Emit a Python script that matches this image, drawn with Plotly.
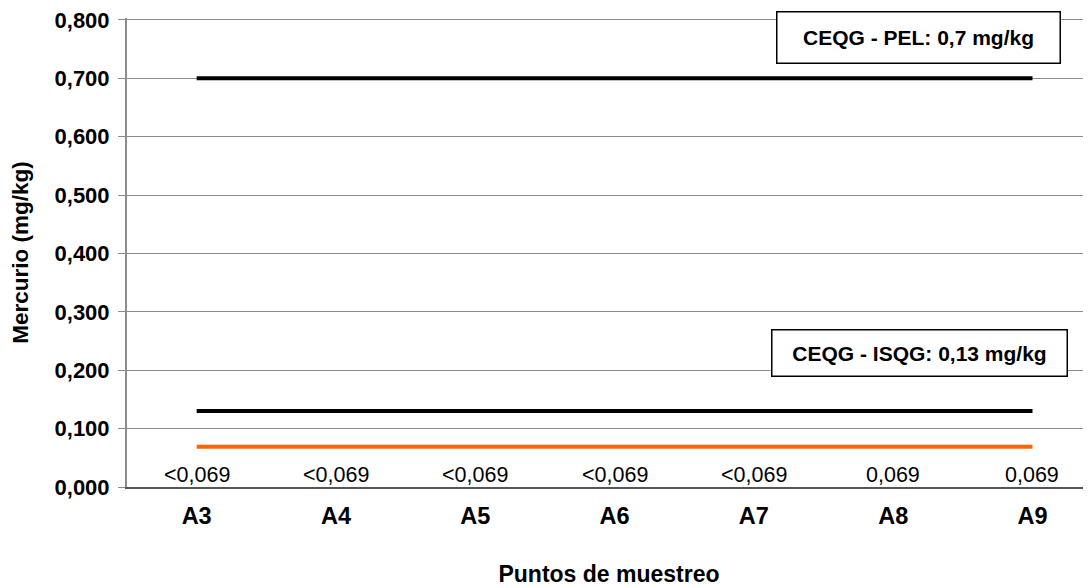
import plotly.graph_objects as go

categories = ["A3", "A4", "A5", "A6", "A7", "A8", "A9"]
mercurio = [0.069, 0.069, 0.069, 0.069, 0.069, 0.069, 0.069]
mercurio_labels = ["<0,069", "<0,069", "<0,069", "<0,069", "<0,069", "0,069", "0,069"]
pel = [0.7] * 7
isqg = [0.13] * 7
y_ticks = [0.0, 0.1, 0.2, 0.3, 0.4, 0.5, 0.6, 0.7, 0.8]
y_ticktext = ["0,000", "0,100", "0,200", "0,300", "0,400", "0,500", "0,600", "0,700", "0,800"]

FONT = "Arial, Liberation Sans, sans-serif"

fig = go.Figure()
fig.add_trace(go.Scatter(x=categories, y=pel, mode="lines",
                         line=dict(color="black", width=4), showlegend=False))
fig.add_trace(go.Scatter(x=categories, y=isqg, mode="lines",
                         line=dict(color="black", width=4), showlegend=False))
fig.add_trace(go.Scatter(x=categories, y=mercurio, mode="lines",
                         line=dict(color="#FF6600", width=4), showlegend=False))

for c, lab in zip(categories, mercurio_labels):
    fig.add_annotation(x=c, y=0, xref="x", yref="y", text=lab, showarrow=False,
                       yanchor="bottom", yshift=-2,
                       font=dict(family=FONT, size=21.5, color="black"))

fig.add_annotation(x=5.18, y=0.7693, xref="x", yref="y",
                   text="<b>CEQG - PEL: 0,7 mg/kg</b>", showarrow=False,
                   width=272, height=40, borderpad=5, bordercolor="black", borderwidth=1.5,
                   bgcolor="white", font=dict(family=FONT, size=21, color="black"))
fig.add_annotation(x=5.19, y=0.2303, xref="x", yref="y",
                   text="<b>CEQG - ISQG: 0,13 mg/kg</b>", showarrow=False,
                   width=284, height=35, borderpad=5, bordercolor="black", borderwidth=1.5,
                   bgcolor="white", font=dict(family=FONT, size=21, color="black"))

fig.update_layout(
    width=1083, height=580,
    margin=dict(l=119, r=0, t=8, b=101),
    paper_bgcolor="white", plot_bgcolor="white",
    font=dict(family=FONT, color="black"),
    xaxis=dict(
        type="category", range=[-0.5, 6.42],
        showgrid=False, showline=True, linecolor="#555555", linewidth=2,
        ticks="", ticklabelstandoff=7,
        tickfont=dict(family=FONT, size=23.5, color="black", weight="bold"),
        title=dict(text="<b>Puntos de muestreo</b>", standoff=38,
                   font=dict(family=FONT, size=23, color="black")),
    ),
    yaxis=dict(
        range=[0, 0.8034], tickvals=y_ticks, ticktext=y_ticktext,
        ticklabeloverflow="allow",
        showgrid=True, gridcolor="#8c8c8c", gridwidth=1,
        showline=True, linecolor="#8c8c8c", linewidth=2,
        ticks="outside", ticklen=7, tickcolor="#8c8c8c", tickwidth=1,
        ticklabelstandoff=4, zeroline=False,
        tickfont=dict(family=FONT, size=22, color="black", weight="bold"),
        title=dict(text="<b>Mercurio (mg/kg)</b>", standoff=20,
                   font=dict(family=FONT, size=22.5, color="black")),
    ),
)

fig.write_html("out.html")
